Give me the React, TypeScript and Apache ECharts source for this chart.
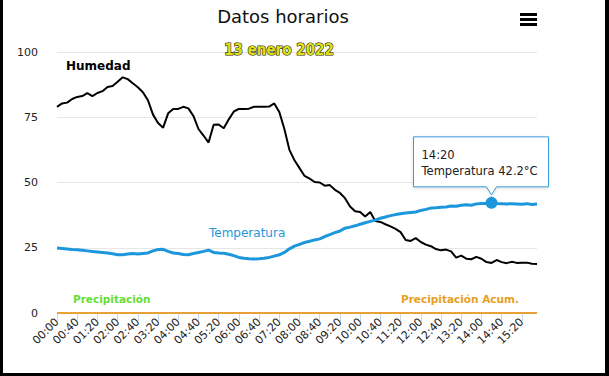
import React, { useEffect, useRef } from "react";
import * as echarts from "echarts";

const horas = [
  "00:00","00:10","00:20","00:30","00:40","00:50","01:00","01:10","01:20","01:30","01:40","01:50",
  "02:00","02:10","02:20","02:30","02:40","02:50","03:00","03:10","03:20","03:30","03:40","03:50",
  "04:00","04:10","04:20","04:30","04:40","04:50","05:00","05:10","05:20","05:30","05:40","05:50",
  "06:00","06:10","06:20","06:30","06:40","06:50","07:00","07:10","07:20","07:30","07:40","07:50",
  "08:00","08:10","08:20","08:30","08:40","08:50","09:00","09:10","09:20","09:30","09:40","09:50",
  "10:00","10:10","10:20","10:30","10:40","10:50","11:00","11:10","11:20","11:30","11:40","11:50",
  "12:00","12:10","12:20","12:30","12:40","12:50","13:00","13:10","13:20","13:30","13:40","13:50",
  "14:00","14:10","14:20","14:30","14:40","14:50","15:00","15:10","15:20","15:30","15:40","15:50",
];

const humedad = [
  79.0, 80.3, 80.6, 82.0, 82.8, 83.1, 84.2, 83.1, 84.3, 85.0, 86.6, 87.0,
  88.6, 90.3, 89.6, 88.0, 86.5, 84.6, 81.5, 76.0, 72.8, 71.0, 76.5, 78.2,
  78.2, 79.0, 78.4, 75.5, 70.5, 68.0, 65.3, 72.1, 72.2, 70.8, 74.2, 77.2,
  78.2, 78.2, 78.3, 79.0, 79.0, 79.0, 79.1, 80.3, 77.0, 70.5, 62.5, 58.5,
  55.5, 52.5, 51.5, 50.2, 50.0, 48.8, 49.0, 47.2, 46.0, 44.0, 40.8, 39.0,
  38.7, 37.0, 38.7, 35.2, 34.9, 34.0, 33.2, 32.2, 31.0, 28.0, 27.6, 28.7,
  27.2, 26.2, 25.6, 24.5, 24.0, 24.3, 23.6, 21.2, 22.0, 20.8, 20.6, 21.5,
  20.8, 19.5, 19.2, 20.3, 19.5, 19.1, 19.6, 19.2, 19.3, 19.3, 18.9, 18.8,
];

const temperatura = [
  24.9, 24.7, 24.5, 24.3, 24.2, 24.0, 23.8, 23.6, 23.4, 23.2, 23.0, 22.7,
  22.3, 22.3, 22.6, 22.8, 22.6, 22.8, 23.0, 23.8, 24.3, 24.4, 23.6, 23.0,
  22.8, 22.4, 22.3, 22.8, 23.2, 23.6, 24.1, 23.2, 23.0, 22.9, 22.5, 22.0,
  21.3, 21.0, 20.8, 20.7, 20.8, 21.0, 21.3, 21.8, 22.3, 23.2, 24.6, 25.6,
  26.3, 27.0, 27.5, 28.0, 28.4, 29.3, 30.0, 30.8, 31.4, 32.5, 32.9, 33.4,
  34.0, 34.6, 35.1, 35.6, 36.3, 36.8, 37.3, 37.7, 38.0, 38.3, 38.5, 38.7,
  39.3, 39.7, 40.2, 40.3, 40.5, 40.6, 41.0, 40.9, 41.3, 41.5, 41.3, 41.8,
  42.0, 42.0, 42.2, 42.0, 41.9, 41.8, 41.9, 41.8, 41.7, 41.9, 41.6, 41.8,
];

const precipitacion = [
  0,0,0,0,0,0,0,0,0,0,0,0, 0,0,0,0,0,0,0,0,0,0,0,0,
  0,0,0,0,0,0,0,0,0,0,0,0, 0,0,0,0,0,0,0,0,0,0,0,0,
  0,0,0,0,0,0,0,0,0,0,0,0, 0,0,0,0,0,0,0,0,0,0,0,0,
  0,0,0,0,0,0,0,0,0,0,0,0, 0,0,0,0,0,0,0,0,0,0,0,0,
];

const precipitacionAcum = [
  0,0,0,0,0,0,0,0,0,0,0,0, 0,0,0,0,0,0,0,0,0,0,0,0,
  0,0,0,0,0,0,0,0,0,0,0,0, 0,0,0,0,0,0,0,0,0,0,0,0,
  0,0,0,0,0,0,0,0,0,0,0,0, 0,0,0,0,0,0,0,0,0,0,0,0,
  0,0,0,0,0,0,0,0,0,0,0,0, 0,0,0,0,0,0,0,0,0,0,0,0,
];

const yTicks = [0, 25, 50, 75, 100];
const tooltipHora = "14:20";
const FONT = "'DejaVu Sans', sans-serif";
const BLUE = "#1d97dc";

export default function App() {
  const ref = useRef<HTMLDivElement>(null);

  useEffect(() => {
    if (!ref.current) return;
    const chart = echarts.init(ref.current, null, { renderer: "svg" });
    const hiIdx = horas.indexOf(tooltipHora);

    chart.setOption({
      animation: false,
      backgroundColor: "#ffffff",
      grid: { left: 57, right: 72, top: 52, bottom: 63, containLabel: false },
      xAxis: {
        type: "category",
        data: horas,
        boundaryGap: false,
        axisLine: { show: false },
        axisTick: { show: true, interval: 3, length: 8, lineStyle: { color: "#ccd6eb" } },
        axisLabel: {
          interval: 3,
          rotate: 45,
          fontSize: 11,
          fontFamily: FONT,
          color: "#222222",
          margin: 7,
        },
        splitLine: { show: false },
      },
      yAxis: {
        type: "value",
        min: yTicks[0],
        max: yTicks[yTicks.length - 1],
        interval: 25,
        axisLine: { show: false },
        axisTick: { show: false },
        axisLabel: { fontSize: 11, fontFamily: FONT, color: "#222222", margin: 19 },
        splitLine: { lineStyle: { color: "#e6e6e6", width: 1 } },
      },
      series: [
        {
          name: "Humedad",
          type: "line",
          data: humedad,
          showSymbol: false,
          lineStyle: { color: "#000000", width: 2 },
          itemStyle: { color: "#000000" },
          z: 3,
        },
        {
          name: "Temperatura",
          type: "line",
          data: temperatura,
          showSymbol: false,
          lineStyle: { color: BLUE, width: 3 },
          itemStyle: { color: BLUE },
          z: 4,
          markPoint: {
            symbol: "circle",
            symbolSize: 12,
            itemStyle: { color: BLUE },
            label: { show: false },
            data: [{ coord: [hiIdx, temperatura[hiIdx]] }],
          },
        },
        {
          name: "Precipitación",
          type: "line",
          data: precipitacion,
          showSymbol: false,
          lineStyle: { color: "#66dd33", width: 2 },
          z: 2,
        },
        {
          name: "Precipitación Acum.",
          type: "line",
          data: precipitacionAcum,
          showSymbol: false,
          lineStyle: { color: "#e8a038", width: 2 },
          z: 2,
        },
      ],
    });

    const pt = chart.convertToPixel({ seriesIndex: 1 }, [hiIdx, temperatura[hiIdx]]) as number[];
    const px = pt[0];
    const py = pt[1];
    const bx0 = px - 78, bx1 = px + 57, by0 = py - 66, by1 = py - 16;

    chart.setOption({
      graphic: [
        // frame
        { type: "rect", left: 0, top: 0, shape: { width: 3, height: 376 }, style: { fill: "#000" }, z: 100 },
        { type: "rect", left: 605, top: 0, shape: { width: 4, height: 376 }, style: { fill: "#000" }, z: 100 },
        { type: "rect", left: 0, top: 373, shape: { width: 609, height: 3 }, style: { fill: "#000" }, z: 100 },
        // title
        {
          type: "text", x: 283, y: 16, z: 50,
          style: { text: "Datos horarios", fontSize: 18, fontFamily: FONT, fill: "#111111", align: "center", verticalAlign: "middle" },
        },
        {
          type: "text", x: 279, y: 50, z: 50,
          style: {
            text: "13 enero 2022", fontSize: 15, fontWeight: "bold",
            fontFamily: "'DejaVu Sans Condensed', 'Liberation Sans Narrow', 'Roboto', sans-serif",
            fill: "#dede1e", stroke: "#2a2a00", lineWidth: 1.2, align: "center", verticalAlign: "middle",
          },
        },
        // menu icon
        { type: "rect", left: 520, top: 13, shape: { width: 17, height: 3 }, style: { fill: "#000" }, z: 50 },
        { type: "rect", left: 520, top: 18, shape: { width: 17, height: 3 }, style: { fill: "#000" }, z: 50 },
        { type: "rect", left: 520, top: 23, shape: { width: 17, height: 3 }, style: { fill: "#000" }, z: 50 },
        // series labels
        {
          type: "text", x: 66, y: 66, z: 50,
          style: { text: "Humedad", fontSize: 12, fontWeight: "bold", fontFamily: FONT, fill: "#000000", verticalAlign: "middle" },
        },
        {
          type: "text", x: 209, y: 233, z: 50,
          style: { text: "Temperatura", fontSize: 12, fontFamily: FONT, fill: BLUE, verticalAlign: "middle" },
        },
        {
          type: "text", x: 73, y: 299, z: 50,
          style: { text: "Precipitación", fontSize: 10.5, fontWeight: "bold", fontFamily: FONT, fill: "#66dd33", verticalAlign: "middle" },
        },
        {
          type: "text", x: 401, y: 299, z: 50,
          style: { text: "Precipitación Acum.", fontSize: 10.5, fontWeight: "bold", fontFamily: FONT, fill: "#e8a020", verticalAlign: "middle" },
        },
        // tooltip
        {
          type: "polygon", z: 60,
          shape: {
            points: [
              [bx0, by0], [bx1, by0], [bx1, by1], [px + 5, by1], [px, py - 8], [px - 5, by1], [bx0, by1],
            ],
          },
          style: { fill: "rgba(255,255,255,0.96)", stroke: "#3a9ad8", lineWidth: 1, shadowBlur: 3, shadowColor: "rgba(0,0,0,0.15)", shadowOffsetY: 1 },
        },
        {
          type: "text", x: bx0 + 8, y: by0 + 18, z: 61,
          style: { text: tooltipHora, fontSize: 11.5, fontFamily: FONT, fill: "#222222", verticalAlign: "middle" },
        },
        {
          type: "text", x: bx0 + 8, y: by0 + 34, z: 61,
          style: { text: "Temperatura " + temperatura[hiIdx].toFixed(1) + "°C", fontSize: 11.5, fontFamily: FONT, fill: "#222222", verticalAlign: "middle" },
        },
      ],
    });

    return () => chart.dispose();
  }, []);

  return (
    <div
      ref={ref}
      style={{ position: "fixed", left: 0, top: 0, width: 609, height: 376, background: "#fff" }}
    />
  );
}
